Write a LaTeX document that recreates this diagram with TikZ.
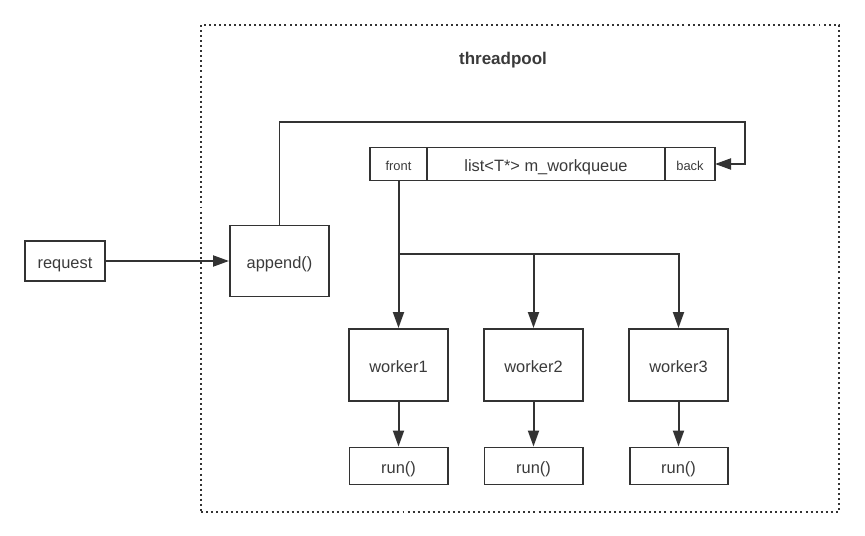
\documentclass[tikz,border=0pt]{standalone}
\usepackage{fontspec}
\setmainfont{Liberation Sans}
\usepackage{xcolor}
\usepackage{tikz}
\usetikzlibrary{arrows.meta, positioning, calc}
\definecolor{inkgray} {HTML}{333333}
\definecolor{textgray}{HTML}{3A3A3A}

\begin{document}
\begin{tikzpicture}[
    x=0.03cm, y=-0.03cm,
    box/.style={draw=inkgray, line width=1.7pt, text=textgray,
                align=center, inner sep=0pt,
                text height=13pt, text depth=0pt,
                font=\fontsize{14}{16}\selectfont},
    cell/.style={box, outer sep=0pt, minimum height=0.99cm},
    smallcell/.style={cell, text height=11pt,
                      font=\fontsize{11}{13}\selectfont},
    arr/.style={-{Triangle[length=4.8mm, width=3.3mm]},
                line width=1.7pt, color=inkgray},
  ]
    \useasboundingbox (0,0) rectangle (865,536);

    % Pool frame and title
    \node[draw=inkgray, line width=1.7pt, dash pattern=on 1.7pt off 2.6pt,
          minimum width=19.14cm, minimum height=14.61cm] (pool) at (520,268.5) {};
    \node[text=textgray, font=\bfseries\fontsize{14.5}{16}\selectfont] (title)
      at (503,60) {threadpool};

    % Entry
    \node[box, minimum width=2.4cm, minimum height=1.2cm] (request)
      at (65,261) {request};
    \node[box, minimum width=2.97cm, minimum height=2.13cm] (append)
      at (279.5,261) {append()};

    % Work queue
    \node[smallcell, minimum width=1.71cm] (front) at (398.5,164) {front};
    \node[cell, minimum width=7.14cm, right=0pt of front] (queue)
      {list<T*> m\_workqueue};
    \node[smallcell, minimum width=1.5cm, right=0pt of queue] (back) {back};

    % Workers
    \node[box, minimum width=2.97cm, minimum height=2.16cm] (worker1)
      at (398.5,365) {worker1};
    \node[box, minimum width=2.97cm, minimum height=2.16cm] (worker2)
      at (533.5,365) {worker2};
    \node[box, minimum width=2.97cm, minimum height=2.16cm] (worker3)
      at (678.5,365) {worker3};

    \node[box, minimum width=2.94cm, minimum height=1.11cm] (run1)
      at (398.5,466) {run()};
    \node[box, minimum width=2.94cm, minimum height=1.11cm] (run2)
      at (533.5,466) {run()};
    \node[box, minimum width=2.94cm, minimum height=1.11cm] (run3)
      at (678.5,466) {run()};

    % Connectors
    \coordinate (loop)  at (745,122);
    \coordinate (split) at (398.5,254);

    \draw[arr] (request) -- (append);
    \draw[arr] (append.north) |- (loop) |- (back.east);
    \draw[arr] (front.south) -- (worker1.north);
    \draw[arr] (split) -| (worker2.north);
    \draw[arr] (split) -| (worker3.north);
    \draw[arr] (worker1) -- (run1);
    \draw[arr] (worker2) -- (run2);
    \draw[arr] (worker3) -- (run3);
  \end{tikzpicture}
\end{document}
